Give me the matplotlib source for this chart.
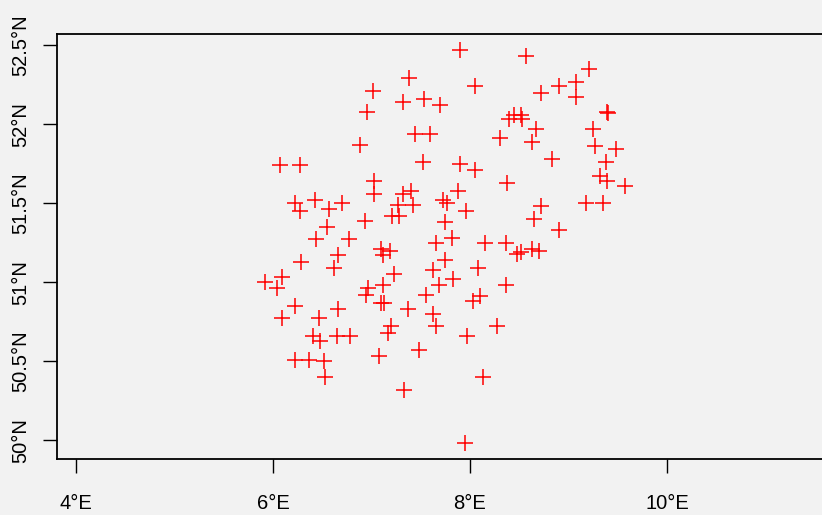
import matplotlib
matplotlib.use("Agg")
import matplotlib.pyplot as plt

# station coordinates (degrees)
lon = [7.90, 8.57, 9.21, 7.38, 7.02, 8.05, 8.90, 9.08, 9.08, 8.72,
       7.32, 7.53, 7.70, 6.95, 9.39, 9.40, 8.45, 8.52, 8.40, 8.53,
       8.67, 8.63, 8.30, 7.44, 7.59, 6.88, 9.25, 9.27, 9.48, 8.83,
       9.38, 7.52, 6.07, 6.27, 7.90, 8.05, 9.32, 9.39, 9.57, 8.38,
       7.03, 7.03, 7.32, 7.40, 7.88, 6.22, 6.27, 6.43, 6.57, 6.70,
       7.27, 7.42, 7.21, 7.28, 6.93, 7.73, 7.77, 7.96, 9.18, 9.35,
       8.72, 8.65, 7.75, 6.55, 6.44, 6.77, 8.90, 7.82, 7.65, 8.15,
       8.37, 7.10, 7.19, 7.12, 8.48, 8.52, 8.63, 8.70, 6.66, 6.28,
       6.62, 7.75, 7.62, 8.08, 7.23, 7.83, 5.92, 6.09, 6.04, 7.12,
       6.96, 6.94, 7.69, 7.55, 8.37, 8.10, 8.03, 7.10, 7.13, 6.22,
       6.66, 7.37, 6.09, 6.47, 7.62, 7.65, 7.20, 8.27, 7.17, 7.97,
       6.41, 6.48, 6.65, 6.78, 6.22, 6.37, 6.52, 6.53, 7.48, 7.08,
       8.13, 7.33, 7.95]
lat = [52.47, 52.43, 52.35, 52.29, 52.21, 52.24, 52.24, 52.27, 52.17, 52.20,
       52.14, 52.16, 52.12, 52.08, 52.08, 52.07, 52.06, 52.06, 52.03, 52.03,
       51.97, 51.89, 51.91, 51.94, 51.94, 51.87, 51.97, 51.86, 51.84, 51.78,
       51.76, 51.76, 51.74, 51.74, 51.75, 51.71, 51.67, 51.64, 51.61, 51.63,
       51.64, 51.56, 51.56, 51.58, 51.58, 51.50, 51.45, 51.52, 51.46, 51.50,
       51.49, 51.49, 51.42, 51.42, 51.39, 51.52, 51.50, 51.45, 51.50, 51.50,
       51.48, 51.40, 51.38, 51.35, 51.27, 51.27, 51.33, 51.28, 51.25, 51.25,
       51.25, 51.21, 51.20, 51.17, 51.18, 51.19, 51.21, 51.20, 51.17, 51.13,
       51.09, 51.14, 51.08, 51.09, 51.05, 51.02, 51.00, 51.03, 50.96, 50.98,
       50.96, 50.92, 50.98, 50.92, 50.98, 50.91, 50.88, 50.87, 50.87, 50.85,
       50.83, 50.83, 50.77, 50.77, 50.80, 50.72, 50.72, 50.72, 50.68, 50.66,
       50.66, 50.63, 50.66, 50.66, 50.51, 50.51, 50.50, 50.40, 50.57, 50.53,
       50.40, 50.32, 49.98]

x_ticks = [4, 6, 8, 10]
x_labels = ["4°E", "6°E", "8°E", "10°E"]
y_ticks = [50, 50.5, 51, 51.5, 52, 52.5]
y_labels = ["50°N", "50.5°N", "51°N", "51.5°N", "52°N", "52.5°N"]

bg = "#f2f2f2"
plt.rcParams["font.family"] = ["Liberation Sans", "DejaVu Sans"]

fig = plt.figure(figsize=(8.22, 5.15), dpi=100, facecolor=bg)
ax = fig.add_axes([0.069, 0.108, 0.931, 0.826], facecolor=bg)

ax.plot(lon, lat, linestyle="none", marker="+", color="red",
        markersize=11, markeredgewidth=1.1)

ax.set_xlim(3.804, 11.574)
ax.set_ylim(49.878, 52.571)

ax.set_xticks(x_ticks)
ax.set_xticklabels(x_labels)
ax.set_yticks(y_ticks)
ax.set_yticklabels(y_labels, rotation=90, va="center")

ax.spines["right"].set_visible(False)
for s in ["left", "top", "bottom"]:
    ax.spines[s].set_linewidth(1.3)
    ax.spines[s].set_color("black")

ax.tick_params(axis="both", length=10, width=1.0, color="black",
               labelsize=14.5, labelcolor="black")
ax.tick_params(axis="x", pad=15)
ax.tick_params(axis="y", pad=9)

fig.savefig("out.png", dpi=100, facecolor=bg)
